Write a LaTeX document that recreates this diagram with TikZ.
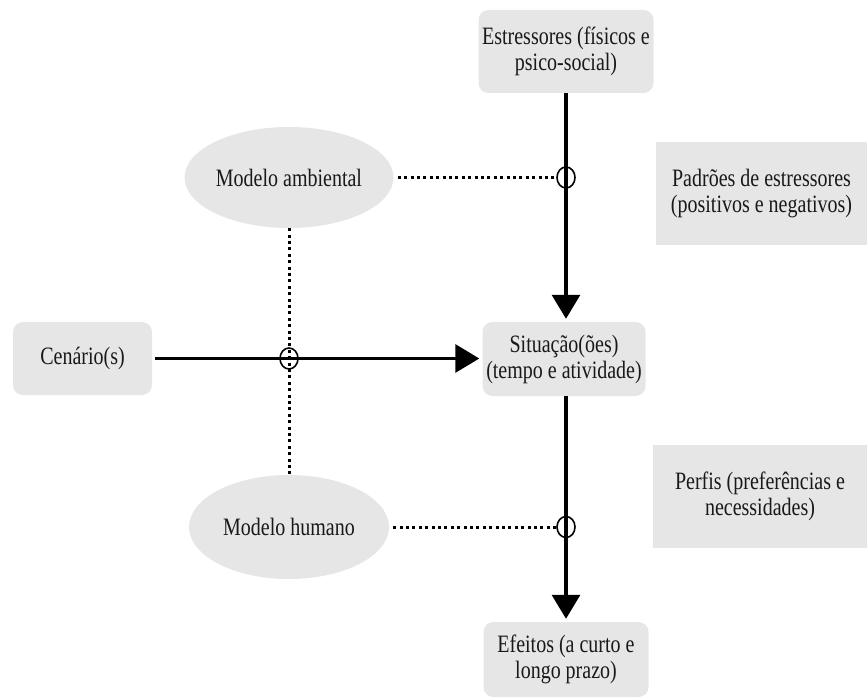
\documentclass[tikz,border=0pt]{standalone}
\usepackage{fontspec}
\setmainfont{Liberation Serif}[FakeStretch=0.8]
\usetikzlibrary{shapes.geometric,arrows.meta}
\definecolor{boxgray}{RGB}{230,230,230}
\definecolor{txt}{RGB}{25,25,25}
\tikzset{
  base/.style={fill=boxgray,text=txt,align=center,inner sep=0pt,
    font=\fontsize{25}{26}\selectfont},
  rbox/.style={base,rectangle,rounded corners=10pt},
  sbox/.style={base,rectangle},
  ebox/.style={base,ellipse},
  mainline/.style={line width=3.2pt,draw=black},
  arrowline/.style={mainline,-{Triangle[length=24pt,width=28pt]},shorten >=3pt},
  dotline/.style={line width=3pt,dash pattern=on 3pt off 3.4pt},
  ring/.style={draw=black,line width=1.6pt,ellipse,minimum width=18pt,minimum height=21pt,inner sep=0pt}
}
\begin{document}
\begin{tikzpicture}[x=1pt,y=-1pt]
\useasboundingbox (0,0) rectangle (867,700);
\node[rbox,minimum width=175pt,minimum height=83pt] (estr) at (566,51.5) {Estressores (físicos e\\psico-social)};
\node[rbox,minimum width=163pt,minimum height=74pt] (sit) at (564,359) {Situação(ões)\\(tempo e atividade)};
\node[rbox,minimum width=139pt,minimum height=73pt] (cen) at (82.5,358.5) {Cenário(s)};
\node[rbox,minimum width=165pt,minimum height=75pt] (efe) at (566,659.5) {Efeitos (a curto e\\longo prazo)};
\node[sbox,minimum width=211pt,minimum height=103pt] (pad) at (761.5,193.5) {Padrões de estressores\\(positivos e negativos)};
\node[sbox,minimum width=214pt,minimum height=103pt] (per) at (760,496.5) {Perfis (preferências e\\necessidades)};
\node[ebox,minimum width=209pt,minimum height=101pt] (amb) at (289,177.5) {Modelo ambiental};
\node[ebox,minimum width=200pt,minimum height=104pt] (hum) at (289,527) {Modelo humano};
% main arrows
\draw[arrowline] (estr.south) -- (estr.south |- sit.north);
\draw[arrowline,shorten <=3pt] (cen.east) -- (cen.east -| sit.west);
\draw[arrowline] (estr.south |- sit.south) -- (estr.south |- efe.north);
% rings
\node[ring] (r1) at (estr.south |- amb.east) {};
\node[ring] (r2) at (amb.south |- cen.east) {};
\node[ring] (r3) at (estr.south |- hum.east) {};
% dotted links
\draw[dotline,shorten <=4pt] (amb.east) -- (r1.west);
\draw[dotline,shorten <=4pt] (hum.east) -- (r3.west);
\draw[dotline] (amb.south) -- (hum.north);
\end{tikzpicture}
\end{document}
